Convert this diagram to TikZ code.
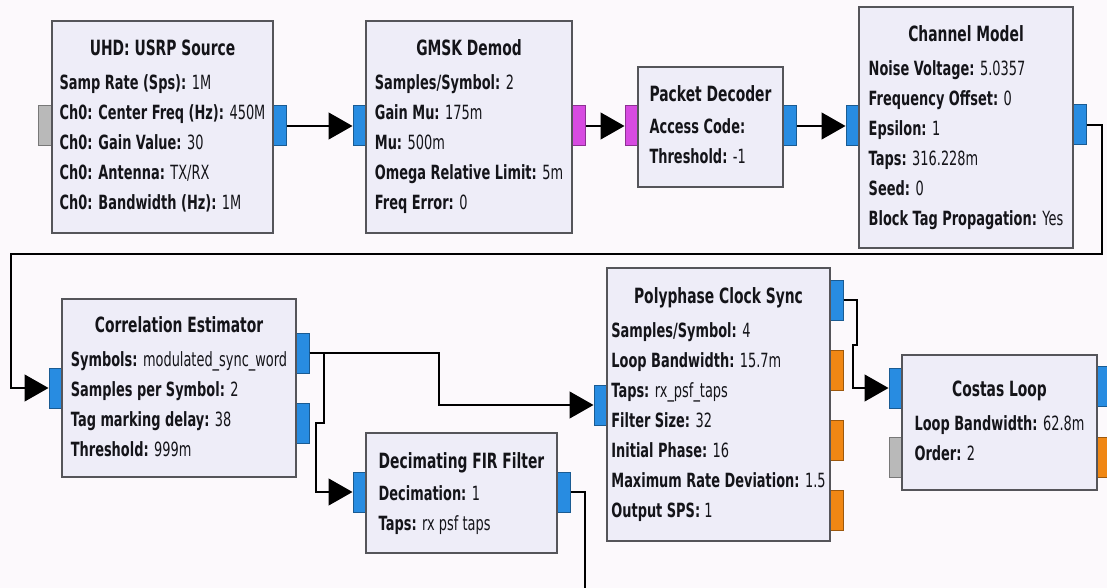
\documentclass[tikz,border=0pt]{standalone}
\usepackage{fontspec}
\setmainfont{DejaVu Sans}[FakeStretch=0.66]
\usepackage{tikz}
\usetikzlibrary{calc,arrows.meta,positioning}
\definecolor{bgcol}{RGB}{252,249,252}
\definecolor{blockfill}{RGB}{238,237,248}
\definecolor{blockline}{RGB}{85,85,90}
\definecolor{textcol}{RGB}{20,20,25}
\definecolor{portblue}{RGB}{40,140,225}
\definecolor{portmag}{RGB}{215,75,225}
\definecolor{portorange}{RGB}{240,135,20}
\definecolor{portgrey}{RGB}{185,185,185}
\newcommand{\ttl}[1]{\multicolumn{1}{@{}c@{}}{\fontsize{10.5}{15}\selectfont\bfseries #1}}
\newcommand{\prm}[2]{\textbf{#1:} #2}

\begin{document}
\begin{tikzpicture}[x=0.5pt,y=-0.5pt]

\tikzset{block/.style={draw=blockline,fill=blockfill,line width=0.6pt,inner sep=0pt,text=textcol,font=\fontsize{9.8}{15}\selectfont},
port/.style={draw=#1!65!black,fill=#1,line width=0.5pt,minimum width=6.5pt,minimum height=20pt,inner sep=0pt},
link/.style={line width=0.65pt,draw=black},
wire/.style={link,-{Triangle[length=12pt,width=13.5pt]}}}

% canvas
\fill[bgcol] (0,0) rectangle (1107,588);
\useasboundingbox (0,0) rectangle (1107,588);

% ports
\node[port=portgrey] (uhdin) at (45,126) {};
\node[port=portblue] (uhdout) at (280,126) {};
\node[port=portblue] (gmskin) at (359.5,126) {};
\node[port=portmag] (gmskout) at (579,126) {};
\node[port=portmag] (pdin) at (631.5,126) {};
\node[port=portblue] (pdout) at (790,126) {};
\node[port=portblue] (chanin) at (852.5,126) {};
\node[port=portblue] (chanout) at (1079.5,125) {};
\node[port=portblue] (corrin) at (55.5,388) {};
\node[port=portblue] (corrout1) at (302.5,353) {};
\node[port=portblue] (corrout2) at (302.5,423) {};
\node[port=portblue] (firin) at (359.5,492) {};
\node[port=portblue] (firout) at (563.5,492) {};
\node[port=portblue] (pfbin) at (600.5,405) {};
\node[port=portblue] (pfbout1) at (836.5,300) {};
\foreach \n/\y in {2/370,3/440,4/510} \node[port=portorange] (pfbout\n) at (836.5,\y) {};
\node[port=portblue] (costasin) at (895.5,388) {};
\node[port=portgrey] (costasin2) at (895.5,457) {};
\node[port=portblue] (costasout1) at (1103.5,386) {};
\node[port=portorange] (costasout2) at (1103.5,457) {};

% top row
\node[block,minimum width=110.5pt,minimum height=106pt] (uhd) at (162.5,127) {\begin{tabular}{@{}l@{}}
\ttl{UHD: USRP Source}\\[2pt]
\prm{Samp Rate (Sps)}{1M}\\
\prm{Ch0: Center Freq (Hz)}{450M}\\
\prm{Ch0: Gain Value}{30}\\
\prm{Ch0: Antenna}{TX/RX}\\
\prm{Ch0: Bandwidth (Hz)}{1M}
\end{tabular}};
\node[block,minimum width=103pt,minimum height=106pt] (gmsk) at (469,127) {\begin{tabular}{@{}l@{}}
\ttl{GMSK Demod}\\[2pt]
\prm{Samples/Symbol}{2}\\
\prm{Gain Mu}{175m}\\
\prm{Mu}{500m}\\
\prm{Omega Relative Limit}{5m}\\
\prm{Freq Error}{0}
\end{tabular}};
\node[block,minimum width=72.5pt,minimum height=60pt] (pdec) at (710.5,127) {\begin{tabular}{@{}l@{}}
\ttl{Packet Decoder}\\[1pt]
\textbf{Access Code:}\\
\prm{Threshold}{-1}
\end{tabular}};
\node[block,minimum width=107pt,minimum height=120.5pt] (chan) at (966,127.5) {\begin{tabular}{@{}l@{}}
\ttl{Channel Model}\\[2pt]
\prm{Noise Voltage}{5.0357}\\
\prm{Frequency Offset}{0}\\
\prm{Epsilon}{1}\\
\prm{Taps}{316.228m}\\
\prm{Seed}{0}\\
\prm{Block Tag Propagation}{Yes}
\end{tabular}};

% bottom row
\node[block,minimum width=117pt,minimum height=89pt] (corr) at (179,388) {\begin{tabular}{@{}l@{}}
\ttl{Correlation Estimator}\\[2pt]
\prm{Symbols}{modulated\_sync\_word}\\
\prm{Samples per Symbol}{2}\\
\prm{Tag marking delay}{38}\\
\prm{Threshold}{999m}
\end{tabular}};
\node[block,minimum width=95.5pt,minimum height=60pt] (fir) at (461.5,493) {\begin{tabular}{@{}l@{}}
\ttl{Decimating FIR Filter}\\[1pt]
\prm{Decimation}{1}\\
\prm{Taps}{rx psf taps}
\end{tabular}};
\node[block,minimum width=111.5pt,minimum height=136.5pt] (pfb) at (718.5,404.5) {\begin{tabular}{@{}l@{}}
\ttl{Polyphase Clock Sync}\\[2pt]
\prm{Samples/Symbol}{4}\\
\prm{Loop Bandwidth}{15.7m}\\
\prm{Taps}{rx\_psf\_taps}\\
\prm{Filter Size}{32}\\
\prm{Initial Phase}{16}\\
\prm{Maximum Rate Deviation}{1.5}\\
\prm{Output SPS}{1}
\end{tabular}};
\node[block,minimum width=97.5pt,minimum height=67.5pt] (costas) at (999.5,422.5) {\begin{tabular}{@{}l@{}}
\ttl{Costas Loop}\\[2pt]
\prm{Loop Bandwidth}{62.8m}\\
\prm{Order}{2}
\end{tabular}};

% bends
\coordinate (b1) at (1102,254); \coordinate (b2) at (11,254);
\coordinate (b3) at (439,405);
\coordinate (b4) at (324,423); \coordinate (b5) at (316,423);
\coordinate (b6) at (585,590);
\coordinate (b7) at (857,345); \coordinate (b8) at (853,345);

% connections
\draw[wire] (uhdout.east) -- (gmskin.west);
\draw[wire] (gmskout.east) -- (pdin.west);
\draw[wire] (pdout.east) -- (chanin.west);
\draw[wire] (chanout.east) -| (b1) -- (b2) |- (corrin.west);
\draw[wire] (corrout1.east) -| (b3) -- (pfbin.west);
\draw[wire] (corrout1.east) -| (b4) -- (b5) |- (firin.west);
\draw[link] (firout.east) -| (b6);
\draw[wire] (pfbout1.east) -| (b7) -- (b8) |- (costasin.west);

\end{tikzpicture}
\end{document}
